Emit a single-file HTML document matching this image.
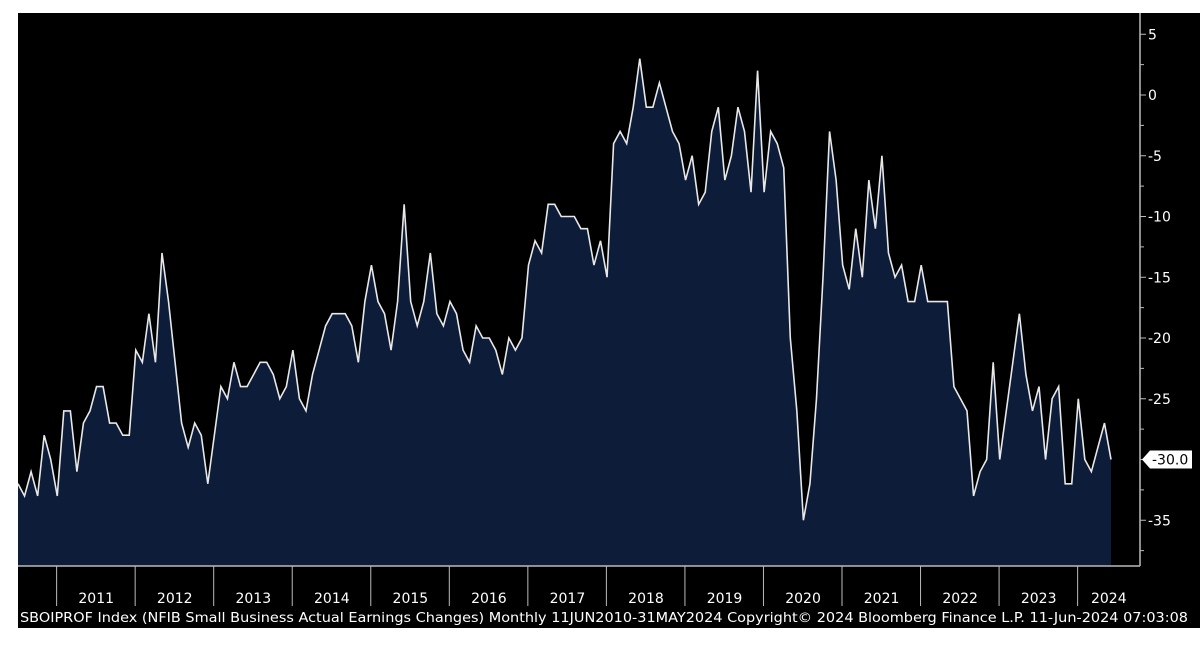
<!DOCTYPE html>
<html><head><meta charset="utf-8"><style>
html,body{margin:0;padding:0;background:#fff;width:1200px;height:648px;overflow:hidden}
svg{display:block}
text{font-family:"DejaVu Sans","Liberation Sans",sans-serif;fill:#ffffff}
</style></head><body>
<svg id="chart" width="1200" height="648" viewBox="0 0 1200 648">
<rect x="18" y="13" width="1182" height="615" fill="#000"/>
<g id="plot"></g>
</svg>
<script>
const years=["2011","2012","2013","2014","2015","2016","2017","2018","2019","2020","2021","2022","2023","2024"];
const yTicks=[5,0,-5,-10,-15,-20,-25,-30,-35];
const v2010=[-32,-33,-31,-33,-28,-30];
const v2011=[-33,-26,-26,-31,-27,-26,-24,-24,-27,-27,-28,-28];
const v2012=[-21,-22,-18,-22,-13,-17,-22,-27,-29,-27,-28,-32];
const v2013=[-28,-24,-25,-22,-24,-24,-23,-22,-22,-23,-25,-24];
const v2014=[-21,-25,-26,-23,-21,-19,-18,-18,-18,-19,-22,-17];
const v2015=[-14,-17,-18,-21,-17,-9,-17,-19,-17,-13,-18,-19];
const v2016=[-17,-18,-21,-22,-19,-20,-20,-21,-23,-20,-21,-20];
const v2017=[-14,-12,-13,-9,-9,-10,-10,-10,-11,-11,-14,-12];
const v2018=[-15,-4,-3,-4,-1,3,-1,-1,1,-1,-3,-4];
const v2019=[-7,-5,-9,-8,-3,-1,-7,-5,-1,-3,-8,2];
const v2020=[-8,-3,-4,-6,-20,-26,-35,-32,-25,-15,-3,-7];
const v2021=[-14,-16,-11,-15,-7,-11,-5,-13,-15,-14,-17,-17];
const v2022=[-14,-17,-17,-17,-17,-24,-25,-26,-33,-31,-30,-22];
const v2023=[-30,-26,-22,-18,-23,-26,-24,-30,-25,-24,-32,-32];
const v2024=[-25,-30,-31,-29,-27,-30];
const lastLabel="-30.0";
const footer="SBOIPROF Index (NFIB Small Business Actual Earnings Changes)  Monthly 11JUN2010-31MAY2024  Copyright\u00A9 2024 Bloomberg Finance L.P.  11-Jun-2024 07:03:08";

const values=[].concat(v2010,v2011,v2012,v2013,v2014,v2015,v2016,v2017,v2018,v2019,v2020,v2021,v2022,v2023,v2024);
const NS="http://www.w3.org/2000/svg";
const g=document.getElementById('plot');
const X0=18,X1=1111,firstMonthOffset=6; // first point = Jul 2010
const step=(X1-X0)/(values.length-1);
function xScale(i){return X0+i*step;}
function yScale(v){return 95-v*12.15;}
const bottom=566, axisX=1140;
function mk(tag,attrs){const e=document.createElementNS(NS,tag);for(const k in attrs)e.setAttribute(k,attrs[k]);g.appendChild(e);return e;}

let d='M'+xScale(0)+','+bottom;
values.forEach((v,i)=>{d+=' L'+xScale(i).toFixed(2)+','+yScale(v).toFixed(2);});
d+=' L'+xScale(values.length-1)+','+bottom+' Z';
const area=mk('path',{d:d,fill:'#0d1c38'});


let ld='';
values.forEach((v,i)=>{ld+=(i?' L':'M')+xScale(i).toFixed(2)+','+yScale(v).toFixed(2);});
const line=mk('path',{d:ld,fill:'none',stroke:'#e8e8e8','stroke-width':1.6,'stroke-linejoin':'miter'});



const xa=mk('line',{x1:18,y1:bottom,x2:axisX,y2:bottom,stroke:'#bbb','stroke-width':1.5});


const ya=mk('line',{x1:axisX,y1:13,x2:axisX,y2:bottom,stroke:'#bbb','stroke-width':1.5});



years.forEach((y,k)=>{
  const i0=firstMonthOffset+k*12;
  const xs=xScale(i0-0.1);
  const sep=mk('line',{x1:xs,y1:bottom,x2:xs,y2:606,stroke:'#bbb','stroke-width':1});
  
  
  const xe=Math.min(xScale(i0+12),1140);
  const t=mk('text',{x:(xs+xe)/2,y:603,'font-size':14,'text-anchor':'middle'});
  t.textContent=y;
  
  
});

for(let v=5;v>=-37.5;v-=2.5){
  const major=(v%5===0);
  const tk=mk('line',{x1:axisX,y1:yScale(v),x2:axisX+(major?6:4),y2:yScale(v),stroke:'#bbb','stroke-width':1});
  
  
}
yTicks.forEach(v=>{
  if(v===-30)return;
  const t=mk('text',{x:axisX+8,y:yScale(v)+5,'font-size':14});
  t.textContent=String(v);
  
  
});
const ly=yScale(values[values.length-1]);
const tag=mk('path',{d:`M${axisX+2},${ly} L${axisX+10},${ly-9} L1192,${ly-9} L1192,${ly+9} L${axisX+10},${ly+9} Z`,fill:'#fff'});


const lt=mk('text',{x:1152,y:ly+5,'font-size':14,style:'fill:#000'});
lt.textContent=lastLabel;



const ft=mk('text',{x:20,y:622,'font-size':13,textLength:1168,lengthAdjust:'spacingAndGlyphs'});
ft.textContent=footer;


</script>
</body></html>
